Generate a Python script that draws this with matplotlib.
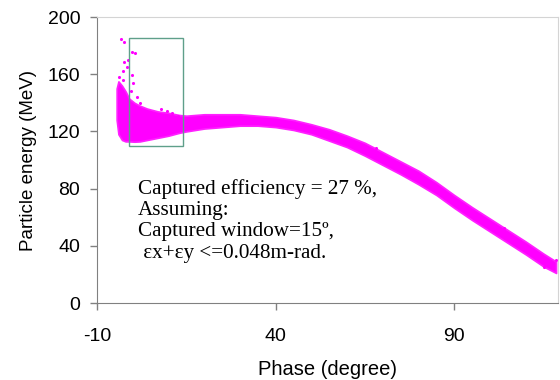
import matplotlib
matplotlib.use("Agg")
import matplotlib.pyplot as plt
from matplotlib.patches import Rectangle

# dense band of the particle cloud
phase = [-4.5, -4.0, -3.0, -2.0, -1.0, 0.5, 2.0, 4.0, 7.0, 10.0, 13.0, 15.0,
         20.0, 25.0, 30.0, 35.0, 40.0, 45.0, 50.0, 55.0, 60.0, 65.0, 70.0,
         75.0, 80.0, 85.0, 90.0, 95.0, 100.0, 105.0, 110.0, 115.0, 118.5]
e_upper = [150, 155, 152, 148, 143, 140, 138, 136, 134, 133, 131.5, 131,
           132, 132, 132, 131, 130, 128, 125, 121.5, 117, 112, 105.5,
           99, 92.5, 84.5, 75.5, 67, 59, 51, 43, 34.5, 29]
e_lower = [128, 118, 114, 113, 113, 112.8, 113, 114, 115.5, 117, 119, 120,
           122, 123, 124, 124, 123, 121, 118, 113.5, 109, 103, 96.5,
           90, 83, 75.5, 66.5, 58, 50, 42, 34, 25.5, 21]

# scattered particles outside the dense band
out_phase = [-3.4, -2.5, -0.3, 0.6, -2.5, -1.7, -2.8, -0.3, -2.6, 0.1, -0.6,
             1.1, 2.1, -3.8, -1.2, 8.0, 9.5, 11.0, 12.6, 68.0, 104.0, 108.2,
             111.8, 113.2, 115.0, 118.4]
out_energy = [184.4, 182.7, 175.7, 175.0, 168.8, 165.0, 162.0, 159.4, 156.0,
              153.6, 148.0, 144.0, 140.0, 158.0, 170.0, 136.0, 134.5, 133.0,
              131.0, 108.5, 52.5, 41.7, 36.5, 32.4, 25.4, 30.0]

window = (-1.0, 110.0, 15.0, 75.0)  # phase0, energy0, width, height

notes = ["Captured efficiency = 27 %,",
         "Assuming:",
         "Captured window=15º,",
         " εx+εy <=0.048m-rad."]

plt.rcParams['font.family'] = ['Liberation Sans', 'DejaVu Sans']
plt.rcParams['axes.unicode_minus'] = False

fig = plt.figure(figsize=(5.6, 3.8), dpi=100)
ax = fig.add_axes([0.1732, 0.2026, 0.823, 0.7526])

ax.fill_between(phase, e_lower, e_upper, color='#ff00ff', linewidth=1.2,
                edgecolor='#ff22ff')
ax.scatter(out_phase, out_energy, s=5, color='#ff00ff', linewidths=0)

ax.add_patch(Rectangle((window[0], window[1]), window[2], window[3],
                       fill=False, edgecolor='#5f9f8a', linewidth=1.0))

ax.text(1.4, 87, "\n".join(notes), family='Liberation Serif', fontsize=15.2,
        va='top', ha='left', linespacing=1.17)

ax.set_xlim(-10, 119)
ax.set_ylim(0, 200)
ax.set_xticks([-10, 40, 90])
ax.set_yticks([0, 40, 80, 120, 160, 200])
ax.tick_params(labelsize=14, length=5, width=1, color='#808080', pad=7)
ax.tick_params(axis='x', pad=13)
ax.set_xlabel("Phase (degree)", fontsize=14.5, labelpad=11)
ax.set_ylabel("Particle energy (MeV)", fontsize=13.5, labelpad=8)

for side in ['left', 'bottom']:
    ax.spines[side].set_color('#808080')
for side in ['top', 'right']:
    ax.spines[side].set_color('#d4d4d4')

fig.savefig("out.png", dpi=100)
